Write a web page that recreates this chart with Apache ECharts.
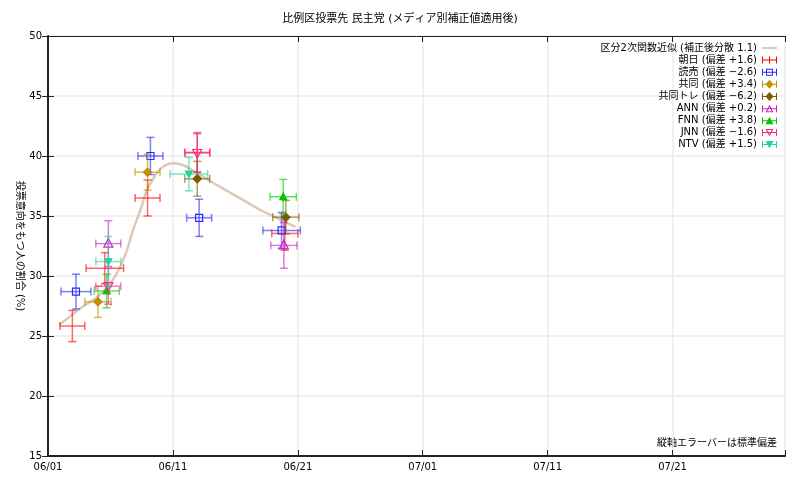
<!DOCTYPE html>
<html><head><meta charset="utf-8">
<script src="https://cdn.jsdelivr.net/npm/echarts@6/dist/echarts.min.js"></script>
<style>html,body{margin:0;padding:0;background:#fff}#c{width:800px;height:480px}</style>
</head><body><div id="c"></div>
<script>
// x values are days after 06/01 ; each point: [x, y, xErr(days), yErr(SD)]
const xTickLabels = ['06/01','06/11','06/21','07/01','07/11','07/21'];
const curveName = '区分2次関数近似 (補正後分散 1.1)';
const curveX = [0.9, 1.6, 2.8, 4.0, 5.0, 5.8, 6.3, 6.8, 7.4, 7.9, 8.6, 9.2, 10.0, 10.8, 11.9, 13.0, 14.0, 15.0, 16.0, 17.0, 18.0, 19.0, 19.8];
const curveY = [25.95, 26.5, 27.45, 28.3, 29.4, 30.8, 32.1, 33.8, 35.5, 37.1, 38.4, 39.1, 39.4, 39.25, 38.6, 37.9, 37.3, 36.7, 36.1, 35.5, 35.0, 34.5, 34.1];

const asahi   = [[1.95,25.83,1.0,1.3],[4.55,30.65,1.5,1.3],[7.97,36.5,1.0,1.5],[11.95,40.3,1.0,1.65],[18.96,33.55,1.05,1.4]];
const yomiuri = [[2.24,28.7,1.2,1.45],[8.2,40.0,1.0,1.55],[12.1,34.85,1.0,1.55],[18.7,33.8,1.5,1.5]];
const kyodo   = [[4.0,27.85,1.05,1.3],[7.97,38.65,1.0,1.5]];
const kyodoT  = [[11.95,38.1,1.0,1.45],[19.04,34.9,1.05,1.4]];
const ann     = [[4.83,32.7,1.0,1.9],[18.88,32.55,1.05,1.9]];
const fnn     = [[4.7,28.75,1.0,1.4],[18.83,36.6,1.05,1.45]];
const jnn     = [[4.83,29.15,1.0,1.5],[11.95,40.25,1.0,1.6]];
const ntv     = [[4.83,31.2,1.0,2.1],[11.28,38.5,1.5,1.4]];

const media = [
  {name:'朝日 (偏差 +1.6)', data:asahi, color:'#ff0000', marker:'plus'},
  {name:'読売 (偏差 −2.6)', data:yomiuri, color:'#2a2aff', marker:'square'},
  {name:'共同 (偏差 +3.4)', data:kyodo, color:'#c09000', marker:'diamond'},
  {name:'共同トレ (偏差 −6.2)', data:kyodoT, color:'#7f5800', marker:'diamond'},
  {name:'ANN (偏差 +0.2)', data:ann, color:'#cc22cc', marker:'triUpOpen'},
  {name:'FNN (偏差 +3.8)', data:fnn, color:'#00c800', marker:'triUp'},
  {name:'JNN (偏差 −1.6)', data:jnn, color:'#ff2288', marker:'triDownOpen'},
  {name:'NTV (偏差 +1.5)', data:ntv, color:'#22d49a', marker:'triDown'}
];

const base = 'M0,4 L15,4 L15,5 L0,5 Z M0,1 L1,1 L1,8 L0,8 Z M14,1 L15,1 L15,8 L14,8 Z ';
const iconMarks = {
  plus: 'M7,1 L8,1 L8,8 L7,8 Z',
  square: 'M4,1 L11,1 L11,8 L4,8 Z M5,2 L5,7 L10,7 L10,2 Z',
  diamond: 'M7.5,0 L11.5,4.5 L7.5,9 L3.5,4.5 Z',
  triUpOpen: 'M7.5,0.5 L11.5,8 L3.5,8 Z M7.5,2.8 L5.2,7 L9.8,7 Z',
  triUp: 'M7.5,0.5 L11.5,8 L3.5,8 Z',
  triDownOpen: 'M3.5,1 L11.5,1 L7.5,8.5 Z M5.2,2 L7.5,6.3 L9.8,2 Z',
  triDown: 'M3.5,1 L11.5,1 L7.5,8.5 Z'
};

function markerShape(type, cx, cy, color){
  const s = 5;
  switch(type){
    case 'plus': return null;
    case 'square': return {type:'rect', shape:{x:cx-3.5,y:cy-3.5,width:7,height:7}, style:{fill:null, stroke:color, lineWidth:1.2}};
    case 'diamond': return {type:'polygon', shape:{points:[[cx,cy-s],[cx+s,cy],[cx,cy+s],[cx-s,cy]]}, style:{fill:color}};
    case 'triUpOpen': return {type:'polygon', shape:{points:[[cx,cy-5],[cx+4.5,cy+3.5],[cx-4.5,cy+3.5]]}, style:{fill:null, stroke:color, lineWidth:1.2}};
    case 'triUp': return {type:'polygon', shape:{points:[[cx,cy-5],[cx+4.5,cy+3.5],[cx-4.5,cy+3.5]]}, style:{fill:color}};
    case 'triDownOpen': return {type:'polygon', shape:{points:[[cx,cy+5],[cx+4.5,cy-3.5],[cx-4.5,cy-3.5]]}, style:{fill:null, stroke:color, lineWidth:1.2}};
    case 'triDown': return {type:'polygon', shape:{points:[[cx,cy+5],[cx+4.5,cy-3.5],[cx-4.5,cy-3.5]]}, style:{fill:color}};
  }
  return null;
}

function makeRender(m){
  return function(params, api){
    const x = api.value(0), y = api.value(1), xe = api.value(2), ye = api.value(3);
    const c = api.coord([x,y]);
    const l = api.coord([x-xe,y]), r = api.coord([x+xe,y]);
    const t = api.coord([x,y+ye]), b = api.coord([x,y-ye]);
    const st = {stroke:m.color, lineWidth:1.5, opacity:0.6};
    const cap = 4;
    const children = [
      {type:'line', shape:{x1:l[0],y1:c[1],x2:r[0],y2:c[1]}, style:st},
      {type:'line', shape:{x1:l[0],y1:c[1]-cap,x2:l[0],y2:c[1]+cap}, style:st},
      {type:'line', shape:{x1:r[0],y1:c[1]-cap,x2:r[0],y2:c[1]+cap}, style:st},
      {type:'line', shape:{x1:c[0],y1:t[1],x2:c[0],y2:b[1]}, style:st},
      {type:'line', shape:{x1:c[0]-cap,y1:t[1],x2:c[0]+cap,y2:t[1]}, style:st},
      {type:'line', shape:{x1:c[0]-cap,y1:b[1],x2:c[0]+cap,y2:b[1]}, style:st}
    ];
    const mk = markerShape(m.marker, c[0], c[1], m.color);
    if (mk) children.push(mk);
    return {type:'group', children};
  };
}

const FONT = '"DejaVu Sans","Noto Sans CJK JP",sans-serif';
const chart = echarts.init(document.getElementById('c'));
const series = [{
  name: curveName, type:'line', smooth:0.4, showSymbol:false, z:1,
  data: curveX.map((v,i)=>[v, curveY[i]]),
  lineStyle:{color:'#dccab6', width:2.5}, itemStyle:{color:'#dccab6'}
}];
media.forEach(m=>{
  series.push({name:m.name, type:'custom', renderItem:makeRender(m), data:m.data,
    itemStyle:{color:m.color}, encode:{x:0,y:1}, z:3});
});

const legendData = [{name:curveName, icon:'path://M0,4 L15,4 L15,6 L0,6 Z'}].concat(
  media.map(m=>({name:m.name, icon:'path://' + base + iconMarks[m.marker]})));

chart.setOption({
  animation:false,
  textStyle:{fontFamily:FONT},
  title:{text:'比例区投票先 民主党 (メディア別補正値適用後)', left:'center', top:9,
    textStyle:{fontFamily:FONT, fontSize:11, fontWeight:'normal', color:'#000'}},
  grid:{left:48, right:15, top:36, bottom:24},
  legend:{orient:'vertical', right:18, top:38, align:'right', itemWidth:15, itemHeight:9, itemGap:2.1,
    textStyle:{fontFamily:FONT, fontSize:10, color:'#000'}, data:legendData},
  xAxis:[{
    type:'value', min:0, max:59, interval:10,
    axisLine:{show:true, lineStyle:{color:'#222', width:2}},
    axisTick:{show:true, inside:true, length:6, lineStyle:{color:'#222'}},
    axisLabel:{formatter:v=>xTickLabels[v/10] || '', fontSize:10, color:'#000', margin:6, fontFamily:FONT},
    splitLine:{show:true, lineStyle:{color:'#ececec', width:1.5}}
  },{
    type:'value', position:'top', min:0, max:59, interval:10,
    axisLine:{show:true, lineStyle:{color:'#222', width:1}},
    axisTick:{show:true, inside:true, length:6, lineStyle:{color:'#222'}},
    axisLabel:{show:false}, splitLine:{show:false}
  }],
  yAxis:[{
    type:'value', min:15, max:50, interval:5,
    name:'投票意向をもつ人の割合 (%)', nameLocation:'middle', nameRotate:-90, nameGap:23,
    nameMoveOverlap:false,
    nameTextStyle:{fontFamily:FONT, fontSize:10, color:'#000'},
    axisLine:{show:true, lineStyle:{color:'#222', width:2}},
    axisTick:{show:true, inside:true, length:6, lineStyle:{color:'#222'}},
    axisLabel:{fontSize:10, color:'#000', margin:6, fontFamily:FONT},
    splitLine:{show:true, lineStyle:{color:'#ececec', width:1.5}}
  },{
    type:'value', position:'right', min:15, max:50, interval:5,
    axisLine:{show:true, lineStyle:{color:'#222', width:1}},
    axisTick:{show:true, inside:true, length:6, lineStyle:{color:'#222'}},
    axisLabel:{show:false}, splitLine:{show:false}
  }],
  graphic:[{type:'text', right:23, bottom:32,
    style:{text:'縦軸エラーバーは標準偏差', font:'10px ' + FONT, fill:'#000', textAlign:'right'}}],
  series: series
});
</script></body></html>
